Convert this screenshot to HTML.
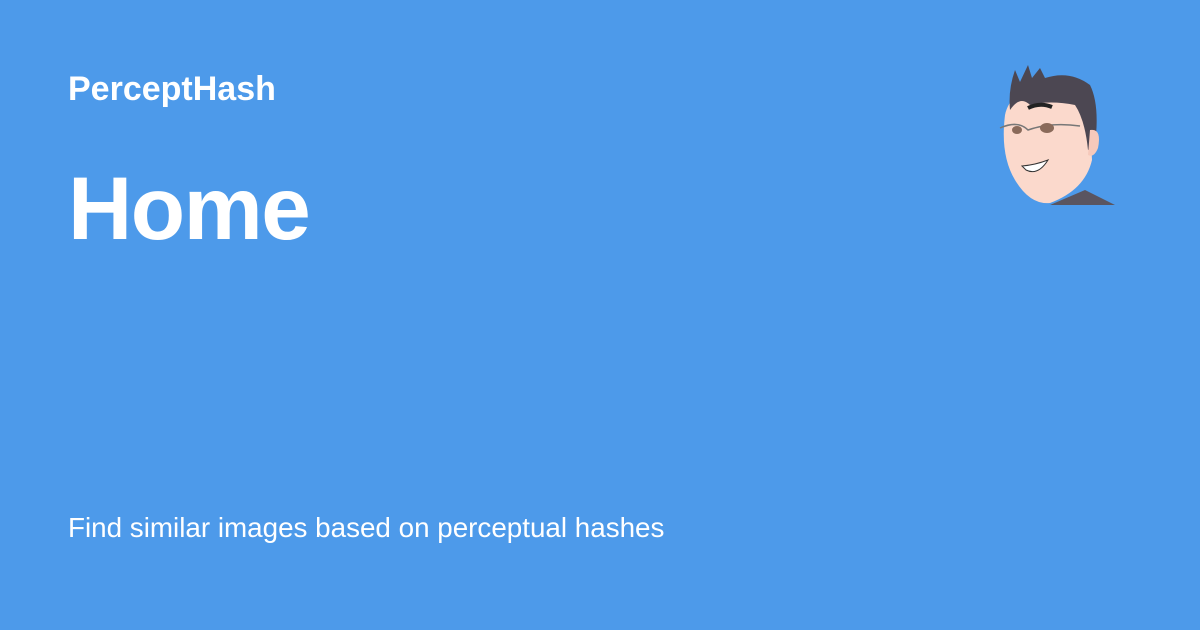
<!DOCTYPE html>
<html><head><meta charset="utf-8"><style>
html,body{margin:0;padding:0}
body{width:1200px;height:630px;background:#4d9aea;position:relative;overflow:hidden;font-family:"Liberation Sans",sans-serif;color:#fff}
.t{position:absolute;left:68px;white-space:nowrap}
</style></head><body>
<div class="t" style="top:70px;font-size:34px;font-weight:bold;">PerceptHash</div>
<div class="t" style="top:157px;font-size:89px;font-weight:bold;letter-spacing:-1.5px">Home</div>
<div class="t" style="top:512px;font-size:27.8px;">Find similar images based on perceptual hashes</div>
<svg style="position:absolute;left:990px;top:60px" width="130" height="150" viewBox="0 0 130 150">
  <path d="M95 130 L125 145 L60 145 Z" fill="#5a5560"/>
  <path d="M15 55 Q20 30 55 25 Q95 22 100 60 L102 100 Q95 130 60 143 Q40 145 25 120 Q10 95 15 55 Z" fill="#fbd9cc"/>
  <path d="M20 50 Q18 30 25 10 L30 22 L38 5 L42 18 L50 8 L55 18 Q80 10 100 25 Q110 45 105 85 L98 90 Q95 60 85 45 Q60 40 40 45 Q30 35 20 50 Z" fill="#4c4752"/>
  <path d="M100 70 Q112 68 108 88 Q104 98 98 95 Z" fill="#f6c9bb"/>
  <path d="M38 48 Q50 42 62 47" stroke="#222" stroke-width="4" fill="none"/>
  <path d="M10 68 Q28 60 38 70 Q60 62 90 66" stroke="#777" stroke-width="1.5" fill="none"/>
  <ellipse cx="27" cy="70" rx="5" ry="4" fill="#8a6a5a"/>
  <ellipse cx="57" cy="68" rx="7" ry="5" fill="#8a6a5a"/>
  <path d="M32 106 Q45 105 58 100 Q48 116 36 110 Z" fill="#fff" stroke="#333" stroke-width="1"/>
</svg>
</body></html>
